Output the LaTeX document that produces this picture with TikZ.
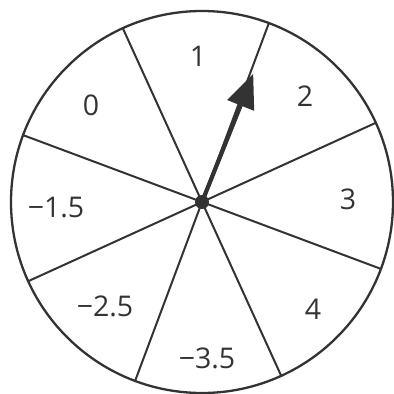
\documentclass[tikz,border=0pt]{standalone}
\usepackage{fontspec}
\setmainfont{Open Sans}
\usetikzlibrary{arrows.meta,calc}
\definecolor{ink}{HTML}{333333}
\tikzset{
  spoke/.style={draw=ink, line width=2pt},
  rim/.style={draw=ink, line width=2.3pt},
  lbl/.style={text=ink, font=\fontsize{28.5}{30}\selectfont, inner sep=0pt},
  pointer/.style={draw=ink, line width=4.2pt, -{Triangle[length=34pt,width=28pt]}},
}
\begin{document}
\begin{tikzpicture}[x=1pt,y=-1pt]
\useasboundingbox (0,0) rectangle (394,394);
\coordinate (c) at (202,202);
\node[rim, circle, minimum size=382pt, inner sep=0pt] (wheel) at (c) {};
\foreach \a [count=\i] in {24.5,69.5,114.5,159.5,204.5,249.5,294.5,339.5} {
  \coordinate (e\i) at ($(c)+(\a:191pt)$);
}
\foreach \i in {1,...,8} { \draw[spoke] (c) -- (e\i); }
\coordinate (tip) at ($(c)+(68.2:138pt)$);
\draw[pointer] (c) -- (tip);
\node[circle, fill=ink, minimum size=14pt, inner sep=0pt] (hub) at (c) {};
\node[lbl] (l1) at (198,56) {1};
\node[lbl] (l2) at (305,96) {2};
\node[lbl] (l3) at (348,199) {3};
\node[lbl] (l4) at (313,309) {4};
\node[lbl] (l5) at (207,358) {−3.5};
\node[lbl] (l6) at (105,306) {−2.5};
\node[lbl] (l7) at (56,208) {−1.5};
\node[lbl] (l8) at (91,105) {0};
\end{tikzpicture}
\end{document}
